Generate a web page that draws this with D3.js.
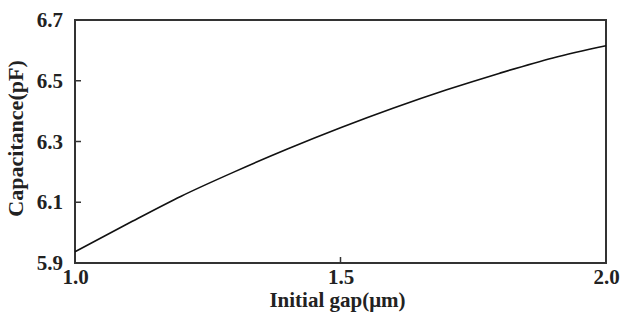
<!DOCTYPE html>
<html>
<head>
<meta charset="utf-8">
<script src="https://cdn.jsdelivr.net/npm/d3@7"></script>
<style>
  body { margin: 0; background: #fff; }
  text { font-family: "Liberation Serif", "Times New Roman", serif; font-weight: bold; fill: #222; }
</style>
</head>
<body>
<div id="chart"></div>
<script>
var svgWidth = 625;
var svgHeight = 322;

var margin = { top: 20, right: 19, bottom: 59, left: 75 };
var width = svgWidth - margin.left - margin.right;
var height = svgHeight - margin.top - margin.bottom;

// data
var gaps = [1.0, 1.1, 1.2, 1.3, 1.4, 1.5, 1.6, 1.7, 1.8, 1.9, 2.0];
var capacitance = [5.937, 6.03, 6.12, 6.20, 6.275, 6.345, 6.41, 6.47, 6.525, 6.575, 6.615];
var xTicks = [1.0, 1.5, 2.0];
var yTicks = [5.9, 6.1, 6.3, 6.5, 6.7];

var svg = d3.select("#chart")
  .append("svg")
  .attr("width", svgWidth)
  .attr("height", svgHeight);

var chartGroup = svg.append("g")
  .attr("transform", `translate(${margin.left}, ${margin.top})`);

var xScale = d3.scaleLinear().domain([1.0, 2.0]).range([0, width]);
var yScale = d3.scaleLinear().domain([5.9, 6.7]).range([height, 0]);

var bottomAxis = d3.axisBottom(xScale)
  .tickValues(xTicks)
  .tickSize(0)
  .tickPadding(6)
  .tickFormat(d3.format(".1f"));

var leftAxis = d3.axisLeft(yScale)
  .tickValues(yTicks)
  .tickSize(0)
  .tickPadding(12)
  .tickFormat(d3.format(".1f"));

var xAxis = chartGroup.append("g")
  .attr("transform", `translate(0, ${height})`)
  .call(bottomAxis);

var yAxis = chartGroup.append("g")
  .call(leftAxis);

[xAxis, yAxis].forEach(function(ax) {
  ax.select(".domain").remove();
  ax.selectAll("text")
    .style("font-family", "'Liberation Serif', serif")
    .style("font-weight", "bold")
    .style("font-size", "21px")
    .attr("fill", "#222");
});

// inward tick marks (inner ticks only)
chartGroup.selectAll(".xtick")
  .data(xTicks.slice(1, -1))
  .enter()
  .append("line")
  .attr("x1", d => xScale(d))
  .attr("x2", d => xScale(d))
  .attr("y1", height)
  .attr("y2", height - 6)
  .attr("stroke", "#333")
  .attr("stroke-width", 1.5);

chartGroup.selectAll(".ytick")
  .data(yTicks.slice(1, -1))
  .enter()
  .append("line")
  .attr("x1", 0)
  .attr("x2", 6)
  .attr("y1", d => yScale(d))
  .attr("y2", d => yScale(d))
  .attr("stroke", "#333")
  .attr("stroke-width", 1.5);

// frame
chartGroup.append("rect")
  .attr("x", 0)
  .attr("y", 0)
  .attr("width", width)
  .attr("height", height)
  .attr("fill", "none")
  .attr("stroke", "#333")
  .attr("stroke-width", 2);

// curve
var line = d3.line()
  .x((d, i) => xScale(gaps[i]))
  .y(d => yScale(d))
  .curve(d3.curveMonotoneX);

chartGroup.append("path")
  .datum(capacitance)
  .attr("d", line)
  .attr("fill", "none")
  .attr("stroke", "#111")
  .attr("stroke-width", 1.6);

// axis titles
chartGroup.append("text")
  .attr("x", width / 2 - 3)
  .attr("y", height + 44)
  .attr("text-anchor", "middle")
  .style("font-size", "21px")
  .text("Initial gap(\u03bcm)");

chartGroup.append("text")
  .attr("transform", "rotate(-90)")
  .attr("x", -height / 2 + 3)
  .attr("y", -52)
  .attr("text-anchor", "middle")
  .style("font-size", "22px")
  .text("Capacitance(pF)");
</script>
</body>
</html>
